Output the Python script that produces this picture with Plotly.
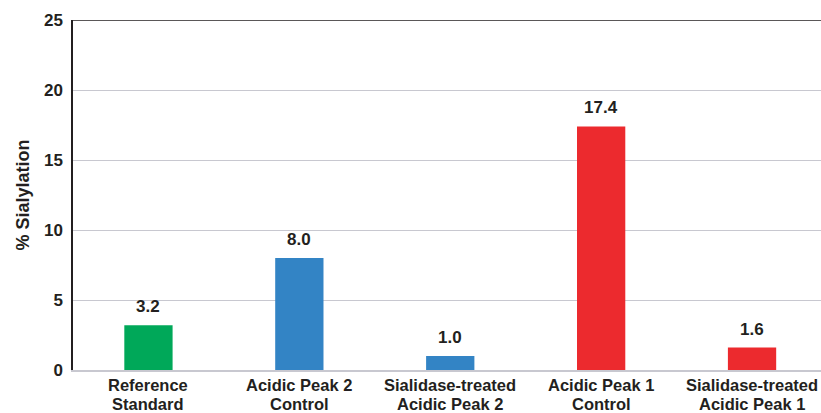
import plotly.graph_objects as go

# Sialylation levels per sample (two-line category names)
category_line1 = ["Reference", "Acidic Peak 2", "Sialidase-treated", "Acidic Peak 1", "Sialidase-treated"]
category_line2 = ["Standard", "Control", "Acidic Peak 2", "Control", "Acidic Peak 1"]
sialylation = [3.2, 8.0, 1.0, 17.4, 1.6]
bar_colors = ["#00a859", "#3384c5", "#3384c5", "#ec2a2e", "#ec2a2e"]
y_ticks = [0, 5, 10, 15, 20, 25]

FONT = "Liberation Sans, Arial, Helvetica, sans-serif"
TEXT = "#231f20"

x_pos = list(range(len(sialylation)))

fig = go.Figure(
    go.Bar(
        x=x_pos,
        y=sialylation,
        marker=dict(color=bar_colors, line=dict(width=0)),
        width=0.32,
        hoverinfo="skip",
    )
)

# value labels above each bar
for i, v in zip(x_pos, sialylation):
    fig.add_annotation(
        x=i, y=v, text=f"<b>{v:.1f}</b>", showarrow=False,
        yanchor="bottom", yshift=7,
        font=dict(family=FONT, size=17, color=TEXT),
    )

# category labels under the axis, one annotation per line
for i, (l1, l2) in enumerate(zip(category_line1, category_line2)):
    for text, shift in ((l1, -15), (l2, -34)):
        fig.add_annotation(
            x=i, xref="x", y=0, yref="paper", text=f"<b>{text}</b>", showarrow=False,
            yanchor="middle", yshift=shift, borderpad=0,
            font=dict(family=FONT, size=16.5, color=TEXT),
        )

# dark frame line along the top of the plot area
fig.add_shape(
    type="line", xref="paper", yref="y", x0=0, x1=1, y0=25, y1=25,
    line=dict(color="#231f20", width=1.5), layer="above",
)

fig.update_layout(
    width=821, height=413,
    margin=dict(l=73, r=0, t=20, b=43),
    plot_bgcolor="white", paper_bgcolor="white",
    showlegend=False,
    font=dict(family=FONT, color=TEXT),
    xaxis=dict(
        range=[-0.5, 4.457],
        showticklabels=False,
        showgrid=False, zeroline=False,
        showline=True, linecolor="#c8c8d0", linewidth=1.5,
        ticks="", automargin=False, fixedrange=True,
    ),
    yaxis=dict(
        range=[0, 25],
        tickvals=y_ticks,
        ticktext=[f"<b>{t}</b>" for t in y_ticks],
        tickfont=dict(family=FONT, size=17, color=TEXT),
        showgrid=True, gridcolor="#c8c8d0", gridwidth=1,
        zeroline=False,
        showline=True, linecolor="#231f20", linewidth=1.5,
        ticks="", ticklabelstandoff=5, automargin=False,
        title=dict(text="<b>% Sialylation</b>", font=dict(family=FONT, size=18, color=TEXT), standoff=10),
        fixedrange=True,
    ),
)

fig.write_html("out.html")
